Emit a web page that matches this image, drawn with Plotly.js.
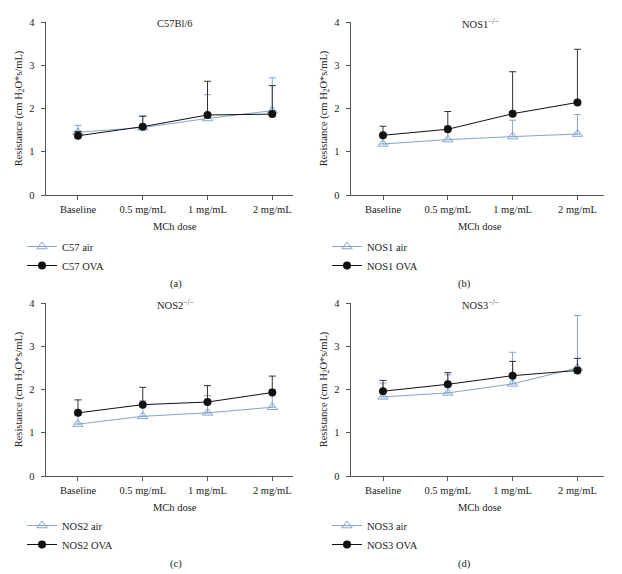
<!DOCTYPE html>
<html>
<head>
<meta charset="utf-8">
<script src="https://cdn.plot.ly/plotly-3.0.1.min.js"></script>
<style>html,body{margin:0;padding:0;background:#fff}#chart{width:622px;height:574px}</style>
</head>
<body>
<div id="chart"></div>
<script>
// ---- data ----
const doses = ["Baseline", "0.5 mg/mL", "1 mg/mL", "2 mg/mL"];
const yTicks = [0, 1, 2, 3, 4];

const panelTitles = ["C57Bl/6", "NOS1<sup>−/−</sup>", "NOS2<sup>−/−</sup>", "NOS3<sup>−/−</sup>"];
const panelLetters = ["(a)", "(b)", "(c)", "(d)"];
const airNames = ["C57 air", "NOS1 air", "NOS2 air", "NOS3 air"];
const ovaNames = ["C57 OVA", "NOS1 OVA", "NOS2 OVA", "NOS3 OVA"];

const c57AirMean = [1.45, 1.56, 1.77, 1.95];
const c57AirErr  = [0.16, 0.27, 0.55, 0.76];
const c57OvaMean = [1.37, 1.58, 1.85, 1.87];
const c57OvaErr  = [0.10, 0.24, 0.78, 0.66];

const nos1AirMean = [1.18, 1.28, 1.35, 1.41];
const nos1AirErr  = [0.15, 0.32, 0.38, 0.45];
const nos1OvaMean = [1.38, 1.52, 1.88, 2.14];
const nos1OvaErr  = [0.21, 0.41, 0.97, 1.23];

const nos2AirMean = [1.20, 1.38, 1.46, 1.59];
const nos2AirErr  = [0.20, 0.36, 0.40, 0.41];
const nos2OvaMean = [1.46, 1.65, 1.71, 1.93];
const nos2OvaErr  = [0.30, 0.40, 0.38, 0.38];

const nos3AirMean = [1.83, 1.92, 2.13, 2.50];
const nos3AirErr  = [0.32, 0.42, 0.73, 1.21];
const nos3OvaMean = [1.96, 2.12, 2.32, 2.44];
const nos3OvaErr  = [0.25, 0.27, 0.33, 0.28];

const airMeans = [c57AirMean, nos1AirMean, nos2AirMean, nos3AirMean];
const airErrs  = [c57AirErr, nos1AirErr, nos2AirErr, nos3AirErr];
const ovaMeans = [c57OvaMean, nos1OvaMean, nos2OvaMean, nos3OvaMean];
const ovaErrs  = [c57OvaErr, nos1OvaErr, nos2OvaErr, nos3OvaErr];

// ---- styling / layout ----
const W = 622, H = 574;
const FONT = "Liberation Serif, Times New Roman, serif";
const AIR = "#86a3cc";
const OVA = "#111111";
const AXC = "#555555";

// pixel geometry of each panel: [left, right, top, bottom, xmax]
const geo = [
  [45.6, 293, 22, 195, 3.32],
  [350.6, 604, 22, 195, 3.41],
  [45.6, 293, 303, 476, 3.32],
  [350.6, 604, 303, 476, 3.41]
];
const legendPos = [[22, 232], [327, 232], [22, 511], [327, 511]];
const letterPos = [[176, 284], [464, 284], [176, 564], [464, 564]];

const traces = [];
const layout = {
  width: W, height: H,
  margin: {l: 0, r: 0, t: 0, b: 0},
  paper_bgcolor: "#fff", plot_bgcolor: "#fff",
  font: {family: FONT, size: 10.5, color: "#222"},
  showlegend: true,
  annotations: []
};

for (let i = 0; i < 4; i++) {
  const s = i === 0 ? "" : String(i + 1);
  const xa = "x" + s, ya = "y" + s;
  const lg = i === 0 ? "legend" : "legend" + (i + 1);
  const zeros = doses.map(() => 0);
  traces.push({
    type: "scatter", mode: "lines+markers", name: airNames[i],
    x: doses, y: airMeans[i], xaxis: xa, yaxis: ya, legend: lg,
    line: {color: AIR, width: 1},
    marker: {symbol: "triangle-up-open", size: 9, color: AIR, line: {width: 1, color: AIR}},
    error_y: {type: "data", symmetric: false, array: airErrs[i], arrayminus: zeros,
              color: AIR, thickness: 1, width: 3.5}
  });
  traces.push({
    type: "scatter", mode: "lines+markers", name: ovaNames[i],
    x: doses, y: ovaMeans[i], xaxis: xa, yaxis: ya, legend: lg,
    line: {color: OVA, width: 1},
    marker: {symbol: "circle", size: 8, color: OVA},
    error_y: {type: "data", symmetric: false, array: ovaErrs[i], arrayminus: zeros,
              color: "#333", thickness: 1, width: 3.5}
  });
  const g = geo[i];
  layout["xaxis" + s] = {
    type: "category", categoryorder: "array", categoryarray: doses,
    domain: [g[0] / W, g[1] / W], range: [-0.5, g[4]], anchor: ya,
    showline: true, linecolor: AXC, linewidth: 1, showgrid: false, zeroline: false,
    ticks: "outside", ticklen: 4, tickcolor: AXC, tickfont: {family: FONT, size: 10.5, color: "#222"},
    fixedrange: true
  };
  layout["yaxis" + s] = {
    domain: [1 - g[3] / H, 1 - g[2] / H], range: [0, 4], anchor: xa,
    tickvals: yTicks, ticktext: yTicks.map(String),
    showline: true, linecolor: AXC, linewidth: 1, showgrid: false, zeroline: false,
    ticks: "outside", ticklen: 4, tickcolor: AXC, ticklabelstandoff: 4,
    tickfont: {family: FONT, size: 10.5, color: "#222"},
    title: {text: "Resistance (cm H<sub>2</sub>O*s/mL)", font: {family: FONT, size: 10.5, color: "#222"}, standoff: 4},
    fixedrange: true
  };
  layout[lg] = {
    x: legendPos[i][0] / W, y: 1 - legendPos[i][1] / H, xanchor: "left", yanchor: "top",
    bgcolor: "rgba(0,0,0,0)", font: {family: FONT, size: 10.5, color: "#222"},
    itemwidth: 30, tracegroupgap: 0
  };
  layout.annotations.push({
    xref: xa, yref: "paper", x: 1.5, y: 1 - (g[2] + 1) / H, yanchor: "middle", xanchor: "center",
    text: panelTitles[i], showarrow: false, font: {family: FONT, size: 10.5, color: "#222"}
  });
  layout.annotations.push({
    xref: xa, yref: "paper", x: 1.5, y: 1 - (g[3] + 31) / H, yanchor: "middle", xanchor: "center",
    text: "MCh dose", showarrow: false, font: {family: FONT, size: 10.5, color: "#222"}
  });
  layout.annotations.push({
    xref: "paper", yref: "paper", x: letterPos[i][0] / W, y: 1 - letterPos[i][1] / H,
    xanchor: "center", yanchor: "middle",
    text: panelLetters[i], showarrow: false, font: {family: FONT, size: 10.5, color: "#222"}
  });
}

Plotly.newPlot("chart", traces, layout, {displayModeBar: false, staticPlot: true});
</script>
</body>
</html>
